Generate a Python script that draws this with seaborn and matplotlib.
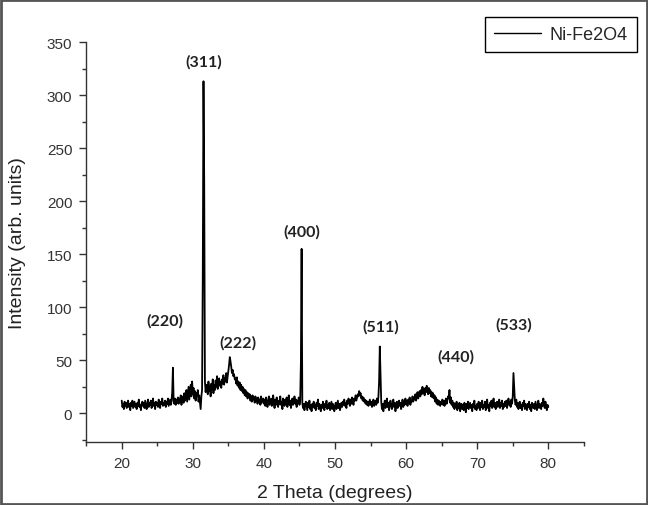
import matplotlib.pyplot as plt
import numpy as np
import pandas as pd
import seaborn as sns
from matplotlib.patches import Rectangle
from matplotlib.ticker import MultipleLocator

# 2 theta scan, 0.1 degree step
two_theta = np.round(np.arange(20, 80.05, 0.1), 1)

# intensity, one row per degree
intensity = [
    12, 6, 9, 4, 11, 7, 10, 5, 8, 12,         # 20
    6, 9, 3, 10, 7, 12, 5, 8, 11, 6,          # 21
    9, 4, 10, 7, 13, 6, 8, 3, 9, 11,          # 22
    7, 10, 5, 12, 8, 4, 9, 13, 6, 10,         # 23
    8, 12, 5, 9, 14, 7, 10, 4, 11, 8,         # 24
    10, 6, 13, 8, 5, 11, 9, 14, 7, 10,        # 25
    8, 12, 6, 11, 9, 14, 7, 10, 13, 8,        # 26
    11, 20, 43, 12, 9, 14, 8, 13, 10, 15,     # 27
    9, 14, 11, 17, 8, 13, 16, 10, 19, 12,     # 28
    15, 22, 11, 18, 25, 13, 20, 27, 16, 30,   # 29
    18, 24, 14, 21, 12, 19, 16, 22, 11, 17,   # 30
    10, 4, 16, 22, 130, 313, 218, 30, 20, 27, # 31
    24, 18, 30, 21, 26, 16, 28, 22, 32, 19,   # 32
    27, 22, 31, 25, 35, 23, 29, 33, 26, 30,   # 33
    24, 32, 28, 36, 27, 33, 30, 38, 29, 35,   # 34
    40, 46, 53, 49, 44, 38, 41, 35, 37, 32,   # 35
    33, 28, 34, 26, 30, 24, 29, 22, 27, 21,   # 36
    25, 19, 23, 17, 22, 16, 20, 14, 19, 15,   # 37
    18, 12, 16, 11, 17, 13, 15, 10, 16, 12,   # 38
    14, 9, 15, 11, 13, 8, 16, 10, 12, 14,     # 39
    9, 13, 7, 15, 10, 6, 12, 16, 8, 11,       # 40
    14, 7, 10, 17, 9, 5, 13, 8, 15, 10,       # 41
    6, 12, 9, 16, 8, 11, 4, 14, 10, 7,        # 42
    13, 9, 15, 6, 11, 17, 8, 12, 5, 10,       # 43
    14, 8, 11, 16, 9, 13, 6, 12, 10, 15,      # 44
    8, 12, 48, 155, 10, 5, 9, 3, 8, 11,       # 45
    7, 3, 10, 6, 12, 4, 8, 2, 9, 6,           # 46
    11, 5, 8, 3, 10, 7, 13, 4, 9, 6,          # 47
    2, 8, 5, 11, 7, 3, 9, 6, 12, 4,           # 48
    8, 5, 10, 3, 7, 11, 4, 9, 6, 2,           # 49
    7, 10, 4, 8, 12, 5, 9, 3, 7, 10,          # 50
    6, 11, 8, 13, 7, 10, 5, 12, 9, 14,        # 51
    10, 7, 13, 9, 15, 11, 8, 14, 12, 17,      # 52
    12, 15, 18, 16, 21, 17, 19, 14, 16, 12,   # 53
    15, 11, 13, 9, 12, 8, 11, 7, 10, 13,      # 54
    8, 11, 6, 10, 13, 7, 9, 12, 8, 14,        # 55
    10, 15, 30, 63, 35, 11, 4, 9, 2, 8,       # 56
    12, 5, 9, 14, 6, 10, 3, 8, 12, 7,         # 57
    4, 9, 13, 6, 10, 2, 8, 11, 5, 9,          # 58
    12, 7, 10, 4, 9, 13, 6, 11, 8, 14,        # 59
    9, 12, 7, 13, 10, 15, 8, 12, 11, 16,      # 60
    11, 15, 13, 18, 12, 16, 20, 14, 17, 21,   # 61
    16, 22, 18, 25, 19, 23, 17, 24, 20, 26,   # 62
    21, 18, 24, 19, 22, 16, 20, 15, 19, 14,   # 63
    17, 11, 15, 9, 13, 8, 12, 10, 7, 11,      # 64
    9, 13, 8, 12, 7, 10, 14, 9, 12, 16,       # 65
    14, 22, 10, 15, 8, 12, 6, 10, 4, 9,       # 66
    6, 11, 3, 8, 5, 10, 2, 7, 9, 4,           # 67
    8, 3, 10, 6, 1, 9, 5, 11, 4, 7,           # 68
    10, 5, 8, 2, 9, 6, 12, 4, 7, 3,           # 69
    9, 5, 11, 7, 3, 10, 6, 12, 4, 8,          # 70
    6, 11, 3, 9, 13, 5, 8, 2, 10, 7,          # 71
    12, 5, 9, 14, 6, 10, 4, 8, 11, 6,         # 72
    9, 13, 5, 10, 7, 12, 4, 9, 6, 11,         # 73
    7, 12, 5, 10, 14, 8, 11, 6, 13, 9,        # 74
    16, 38, 25, 12, 8, 13, 6, 10, 4, 9,       # 75
    11, 5, 8, 3, 10, 7, 12, 4, 9, 6,          # 76
    3, 9, 6, 11, 4, 8, 2, 10, 7, 5,           # 77
    9, 4, 11, 7, 3, 8, 12, 5, 9, 6,           # 78
    4, 10, 7, 14, 8, 5, 11, 6, 3, 8,          # 79
    6,                                        # 80
]

# peak labels (hkl) and where they sit
hkl_labels = ['(220)', '(311)', '(222)', '(400)', '(511)', '(440)', '(533)']
hkl_x = [26.1, 31.6, 36.3, 45.4, 56.4, 67.0, 75.1]
hkl_y = [88, 332, 67, 172, 82, 54, 84]

df = pd.DataFrame({'two_theta': two_theta, 'intensity': intensity})

sns.set_style('ticks')
plt.rcParams['font.family'] = ['Liberation Sans', 'DejaVu Sans']

fig = plt.figure(figsize=(6.48, 5.06), dpi=100)
ax = fig.add_axes([0.133, 0.1245, 0.768, 0.7905])

sns.lineplot(data=df, x='two_theta', y='intensity', estimator=None, sort=False,
             color='black', lw=1.3, label='Ni-Fe2O4', ax=ax)

for lab, x, y in zip(hkl_labels, hkl_x, hkl_y):
    ax.text(x, y, lab, ha='center', va='center', fontsize=11.5, fontweight='bold',
            family=['Lato', 'DejaVu Sans'], color='#222222')

ax.set_xlim(15, 85)
ax.set_ylim(-27, 350)
ax.xaxis.set_major_locator(MultipleLocator(10))
ax.xaxis.set_minor_locator(MultipleLocator(5))
ax.yaxis.set_major_locator(MultipleLocator(50))
ax.yaxis.set_minor_locator(MultipleLocator(25))
ax.set_xticks([20, 30, 40, 50, 60, 70, 80])
ax.tick_params(which='major', direction='out', length=5, width=1, labelsize=11,
               colors='#333333', labelcolor='#333333', pad=5)
ax.tick_params(which='minor', direction='out', length=3, width=1, colors='#333333')
sns.despine(ax=ax)
for s in ['left', 'bottom']:
    ax.spines[s].set_color('#333333')
    ax.spines[s].set_linewidth(1)

ax.set_xlabel('2 Theta (degrees)', fontsize=14, color='#222222', labelpad=10)
ax.set_ylabel('Intensity (arb. units)', fontsize=14, color='#222222', labelpad=15)

leg = ax.legend(loc='upper right', bbox_to_anchor=(0.983, 0.964),
                bbox_transform=fig.transFigure, borderaxespad=0, fancybox=False,
                framealpha=1, edgecolor='black', fontsize=13, handlelength=2.6,
                borderpad=0.5, handletextpad=0.5)
leg.get_frame().set_linewidth(1)
for line in leg.get_lines():
    line.set_linewidth(1)

# frame round the whole picture
fig.patches.append(Rectangle((0.002, 0.002), 0.996, 0.996, transform=fig.transFigure,
                             fill=False, edgecolor='#555555', lw=2))

fig.savefig('out.png', dpi=100)
